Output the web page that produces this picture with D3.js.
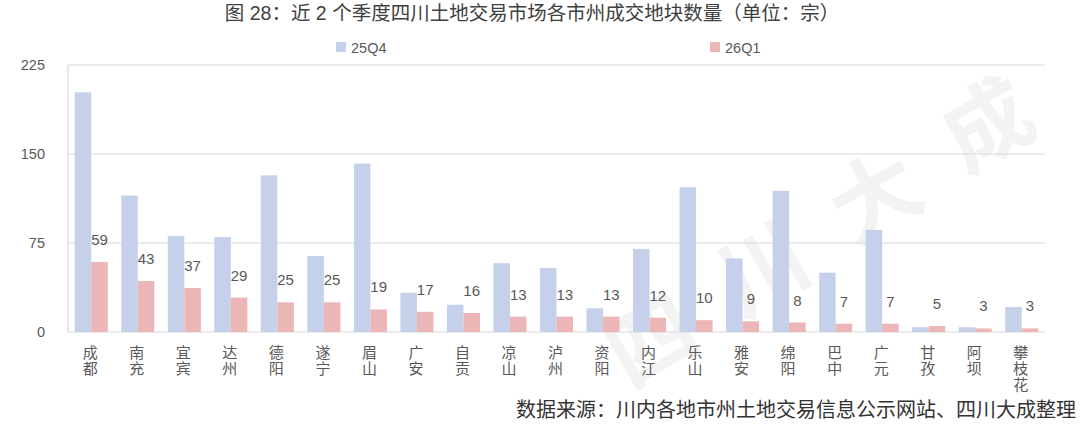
<!DOCTYPE html>
<html><head><meta charset="utf-8">
<script src="https://cdn.jsdelivr.net/npm/d3@7/dist/d3.min.js"></script>
<style>
html,body{margin:0;padding:0;background:#fff;}
svg{display:block;font-family:"Liberation Sans","Noto Sans CJK SC",sans-serif;}
</style></head>
<body>
<svg id="chart" width="1080" height="424"></svg>
<script>
const categories = ["成都","南充","宜宾","达州","德阳","遂宁","眉山","广安","自贡","凉山","泸州","资阳","内江","乐山","雅安","绵阳","巴中","广元","甘孜","阿坝","攀枝花"];
const q25Q4 = [202,115,81,80,132,64,142,33,23,58,54,20,70,122,62,119,50,86,4,4,21];
const q26Q1 = [59,43,37,29,25,25,19,17,16,13,13,13,12,10,9,8,7,7,5,3,3];
const seriesNames = ["25Q4","26Q1"];
const yTicks = [0,75,150,225];
const title = "图 28：近 2 个季度四川土地交易市场各市州成交地块数量（单位：宗）";
const source = "数据来源：川内各地市州土地交易信息公示网站、四川大成整理";
const watermark = "四川大成";

const colors = ["#c5d1ea","#ebb6b5"];
const svg = d3.select("#chart");
const m = {left:68, right:1045, top:65, bottom:332};

// watermark (one glyph per text element)
Array.from(watermark).forEach((ch,i)=>{
  const cx = 648 + i*112, cy = 335 - i*72;
  svg.append("text")
    .attr("transform",`translate(${cx},${cy}) rotate(-30)`)
    .attr("text-anchor","middle").attr("dominant-baseline","central")
    .attr("font-family","Noto Sans CJK SC").attr("font-weight","bold")
    .attr("font-size",88).attr("fill","#f3f3f3").text(ch);
});

const x = d3.scaleBand().domain(categories).range([m.left, m.right]).paddingInner(0.29).paddingOuter(0.145);
const xs = d3.scaleBand().domain(seriesNames).range([0, x.bandwidth()]);
const y = d3.scaleLinear().domain([0,225]).range([m.bottom, m.top]);

// gridlines
svg.append("g").selectAll("line").data(yTicks).join("line")
  .attr("x1",m.left).attr("x2",m.right)
  .attr("y1",d=>y(d)).attr("y2",d=>y(d))
  .attr("stroke","#d9d9d9").attr("stroke-width",1.2);
svg.append("line").attr("x1",m.left).attr("x2",m.left)
  .attr("y1",m.top).attr("y2",m.bottom).attr("stroke","#d9d9d9").attr("stroke-width",1.2);

// y axis labels
const yAxis = d3.axisLeft(y).tickValues(yTicks).tickSize(0).tickPadding(0);
const ya = svg.append("g").attr("transform","translate(45,0)").call(yAxis);
ya.select(".domain").remove();
ya.selectAll("text").attr("font-size",14.5).attr("fill","#595959")
  .attr("font-family","Liberation Sans, sans-serif");

// bars
const seriesData = [q25Q4, q26Q1];
const groups = svg.append("g").selectAll("g").data(categories).join("g")
  .attr("transform",d=>`translate(${x(d)},0)`);
groups.selectAll("rect").data((d,i)=>seriesNames.map((s,k)=>({s, k, v:seriesData[k][i]})))
  .join("rect")
  .attr("x",d=>xs(d.s)).attr("width",xs.bandwidth())
  .attr("y",d=>y(d.v)).attr("height",d=>y(0)-y(d.v))
  .attr("fill",d=>colors[d.k]);

// value labels for 26Q1
svg.append("g").selectAll("text").data(categories).join("text")
  .attr("x",d=>x(d)+xs("26Q1")+xs.bandwidth()/2)
  .attr("y",(d,i)=>y(q26Q1[i])-17)
  .attr("text-anchor","middle").attr("font-size",15).attr("fill","#595959")
  .text((d,i)=>q26Q1[i]);

// x labels (vertical text)
svg.append("g").selectAll("text").data(categories).join("text")
  .attr("x",d=>x(d)+x.bandwidth()/2 - 1)
  .attr("y",345)
  .style("writing-mode","vertical-rl")
  .attr("text-anchor","start")
  .attr("letter-spacing",1)
  .attr("font-family","Noto Sans CJK SC").attr("font-size",15).attr("fill","#595959")
  .text(d=>d);

// legend
const lg = [{n:"25Q4",x:336},{n:"26Q1",x:710}];
lg.forEach((l,k)=>{
  svg.append("rect").attr("x",l.x).attr("y",42).attr("width",10).attr("height",10).attr("fill",colors[k]);
  svg.append("text").attr("x",l.x+15).attr("y",52.5).attr("font-size",14.5).attr("fill","#595959").text(l.n);
});

// title
svg.append("text").attr("x",532).attr("y",20).attr("text-anchor","middle")
  .attr("font-size",19.5).attr("fill","#404040").text(title);

// source
svg.append("text").attr("x",1076).attr("y",417).attr("text-anchor","end")
  .attr("font-size",20).attr("fill","#333333").attr("font-family","Noto Sans CJK SC").text(source);
</script>
</body></html>
